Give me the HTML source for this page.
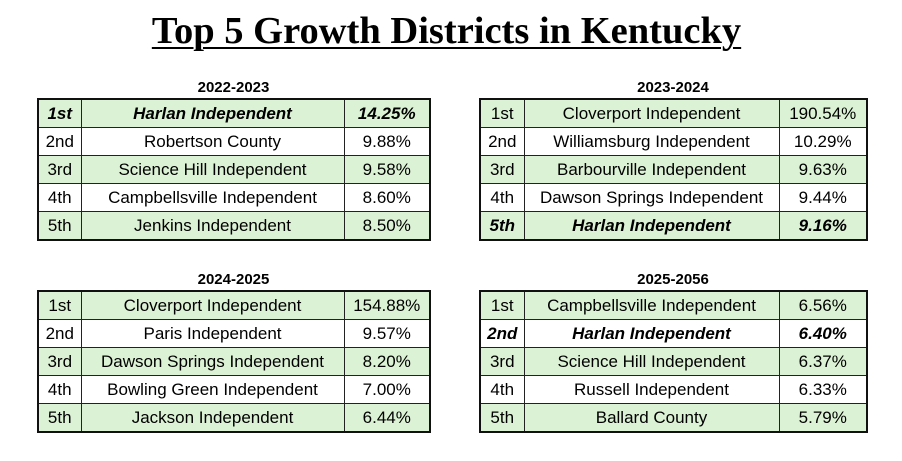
<!DOCTYPE html>
<html><head><style>
body{margin:0;width:902px;height:461px;background:#fff;position:relative;font-family:"Liberation Sans",Arial,sans-serif;overflow:hidden}
h1{position:absolute;left:0;width:893px;top:9px;margin:0;text-align:center;font:bold 38.5px "Liberation Serif",serif;text-decoration:underline;text-decoration-thickness:2px;text-underline-offset:4px}
.t{position:absolute;text-align:center;font-weight:bold;font-size:15px}
table{position:absolute;border-collapse:collapse;border:2px solid #111;font-size:17px}
td{border:1px solid #222;height:27px;padding:0;text-align:center;line-height:27px}
tr.g td{background:#dcf2d5}
tr.b td{font-weight:bold;font-style:italic}
</style></head><body>
<h1>Top 5 Growth Districts in Kentucky</h1>

<div class="t" style="left:37px;width:393px;top:79px">2022-2023</div>
<table style="left:37px;top:98px;width:394px">
<colgroup><col style="width:43px"><col style="width:263px"><col></colgroup>
<tr class="g b"><td>1st</td><td>Harlan Independent</td><td>14.25%</td></tr>
<tr><td>2nd</td><td>Robertson County</td><td>9.88%</td></tr>
<tr class="g"><td>3rd</td><td>Science Hill Independent</td><td>9.58%</td></tr>
<tr><td>4th</td><td>Campbellsville Independent</td><td>8.60%</td></tr>
<tr class="g"><td>5th</td><td>Jenkins Independent</td><td>8.50%</td></tr>
</table>

<div class="t" style="left:479px;width:388px;top:79px">2023-2024</div>
<table style="left:479px;top:98px;width:389px">
<colgroup><col style="width:44px"><col style="width:255px"><col></colgroup>
<tr class="g"><td>1st</td><td>Cloverport Independent</td><td>190.54%</td></tr>
<tr><td>2nd</td><td>Williamsburg Independent</td><td>10.29%</td></tr>
<tr class="g"><td>3rd</td><td>Barbourville Independent</td><td>9.63%</td></tr>
<tr><td>4th</td><td>Dawson Springs Independent</td><td>9.44%</td></tr>
<tr class="g b"><td>5th</td><td>Harlan Independent</td><td>9.16%</td></tr>
</table>

<div class="t" style="left:37px;width:393px;top:271px">2024-2025</div>
<table style="left:37px;top:290px;width:394px">
<colgroup><col style="width:43px"><col style="width:263px"><col></colgroup>
<tr class="g"><td>1st</td><td>Cloverport Independent</td><td>154.88%</td></tr>
<tr><td>2nd</td><td>Paris Independent</td><td>9.57%</td></tr>
<tr class="g"><td>3rd</td><td>Dawson Springs Independent</td><td>8.20%</td></tr>
<tr><td>4th</td><td>Bowling Green Independent</td><td>7.00%</td></tr>
<tr class="g"><td>5th</td><td>Jackson Independent</td><td>6.44%</td></tr>
</table>

<div class="t" style="left:479px;width:388px;top:271px">2025-2056</div>
<table style="left:479px;top:290px;width:389px">
<colgroup><col style="width:44px"><col style="width:255px"><col></colgroup>
<tr class="g"><td>1st</td><td>Campbellsville Independent</td><td>6.56%</td></tr>
<tr class="b"><td>2nd</td><td>Harlan Independent</td><td>6.40%</td></tr>
<tr class="g"><td>3rd</td><td>Science Hill Independent</td><td>6.37%</td></tr>
<tr><td>4th</td><td>Russell Independent</td><td>6.33%</td></tr>
<tr class="g"><td>5th</td><td>Ballard County</td><td>5.79%</td></tr>
</table>
</body></html>
